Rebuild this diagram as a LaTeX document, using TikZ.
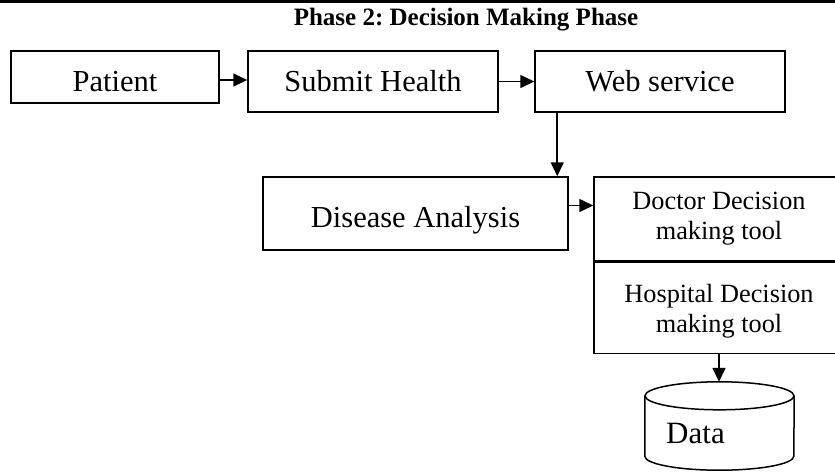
\documentclass[tikz,border=0pt]{standalone}
\usepackage{fontspec}
\setmainfont{Liberation Serif}
\usetikzlibrary{shapes.geometric, arrows.meta, positioning, calc}
\tikzset{
  procbox/.style n args={3}{rectangle, draw, line width=1.5pt, minimum width=#1, minimum height=#2, inner sep=0pt, text height=#3, text depth=0pt, font=\fontsize{30.5}{34}\selectfont},
  toolbox/.style={rectangle, draw, line width=1.5pt, minimum width=250pt, minimum height=#1, inner sep=0pt, align=center, font=\fontsize{26.3}{30}\selectfont},
  phasetitle/.style={font=\fontsize{25}{28}\selectfont\bfseries},
  storeshape/.style={line width=1.5pt},
  flow/.style={->, line width=1.6pt},
}

\begin{document}
\begin{tikzpicture}[x=1pt, y=-1pt, >={Triangle[length=14pt, width=13pt]}]
\useasboundingbox (0,0) rectangle (835,472);
\draw[line width=2.5pt] (0,1.25) -- (835,1.25);
\node[phasetitle] (title) at (466,20) {\frenchspacing Phase 2: Decision Making Phase};
\node[procbox={208pt}{52pt}{28pt}] (patient) at (115,77) {Patient};
\node[procbox={250pt}{61pt}{19pt}] (submit) at (373,81.5) {Submit Health};
\node[procbox={250pt}{61pt}{19pt}] (web) at (660,81.5) {Web service};
\node[procbox={305pt}{73pt}{27pt}] (disease) at (415.5,213.5) {Disease Analysis};
\node[toolbox=84pt] (doctor) at (719,219) {Doctor Decision\\making tool};
\node[toolbox=91pt, anchor=north, text depth=0pt] (hospital) at (doctor.south) {Hospital Decision\\making tool};
\node[minimum width=149pt, minimum height=88pt, inner sep=0pt] (data) at (719.5,426) {};
\node[font=\fontsize{31}{34}\selectfont] (datatext) at ([xshift=-24pt, yshift=-7pt]data.center) {Data};
\draw[storeshape] ([yshift=-14pt]data.north) ellipse [x radius=74.5pt, y radius=14pt];
\draw[storeshape] ([yshift=-14pt]data.north west) -- ([yshift=14pt]data.south west)
  arc [start angle=180, end angle=360, x radius=74.5pt, y radius=14pt] -- ([yshift=-14pt]data.north east);
\coordinate (dd) at ([yshift=8pt]disease.east);
\coordinate (ws) at ([xshift=23pt]web.south west);
\draw[flow] ([yshift=-3pt]patient.east) -- ([yshift=-3pt]patient.east -| submit.west);
\draw[flow] (submit) -- (web);
\draw[flow] (ws) -- (ws |- disease.north);
\draw[flow] (dd) -- (dd -| doctor.west);
\draw[flow] (hospital.south) -- (hospital.south |- data.north);
\end{tikzpicture}
\end{document}
